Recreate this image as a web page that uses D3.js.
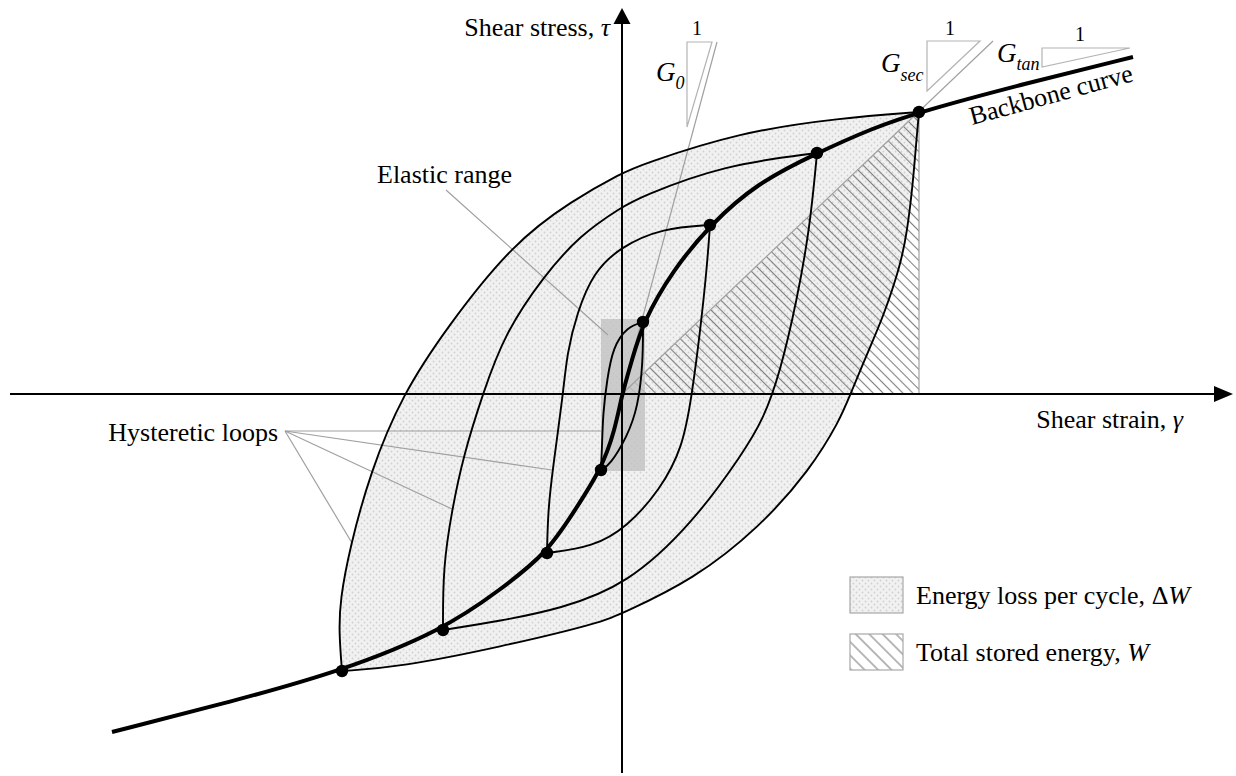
<!DOCTYPE html>
<html>
<head>
<meta charset="utf-8">
<script src="https://cdn.jsdelivr.net/npm/d3@7"></script>
<style>
  html, body { margin: 0; padding: 0; background: #fff; }
  svg { display: block; }
  text { font-family: "Liberation Serif", "Times New Roman", serif; fill: #000; }
</style>
</head>
<body>
<svg id="chart" width="1236" height="776"></svg>
<script>
// Backbone curve, [shear strain γ, shear stress τ] (arbitrary units)
const backbone = [
  [-5.10, -3.38], [-3.92, -3.08], [-2.80, -2.77], [-1.79, -2.36], [-1.22, -1.96],
  [-0.75, -1.59], [-0.49, -1.19], [-0.21, -0.76], [-0.07, -0.36], [0, 0],
  [0.10, 0.34], [0.21, 0.72], [0.51, 1.24], [0.88, 1.69], [1.35, 2.11],
  [1.95, 2.41], [2.51, 2.66], [2.97, 2.82], [4.05, 3.11], [5.11, 3.37]
];

// Reversal points of the four cycles (upper and lower)
const tipsUpper = [[0.21, 0.72], [0.88, 1.69], [1.95, 2.41], [2.97, 2.82]];
const tipsLower = [[-0.21, -0.76], [-0.75, -1.59], [-1.79, -2.36], [-2.80, -2.77]];

// Unloading branches (upper tip -> lower tip)
const loop1Down = [[0.21, 0.72], [0.05, 0.67], [-0.09, 0.47], [-0.15, 0.14], [-0.19, -0.19], [-0.20, -0.53], [-0.21, -0.76]];
const loop2Down = [[0.88, 1.69], [0.41, 1.66], [-0.02, 1.47], [-0.29, 1.21], [-0.45, 0.81], [-0.55, 0.41], [-0.59, -0.01], [-0.69, -0.73], [-0.74, -1.16], [-0.75, -1.59]];
const loop3Down = [[1.95, 2.41], [1.01, 2.29], [0.18, 1.97], [0, 1.87], [-0.42, 1.59], [-0.79, 1.17], [-1.17, 0.61], [-1.39, 0.01], [-1.59, -0.63], [-1.70, -1.16], [-1.79, -1.73], [-1.79, -2.36]];
const loop4Down = [[2.97, 2.82], [2.18, 2.76], [1.18, 2.62], [0.18, 2.29], [0, 2.21], [-0.49, 1.94], [-1.09, 1.51], [-1.75, 0.67], [-2.20, -0.01], [-2.52, -0.79], [-2.72, -1.53], [-2.82, -2.06], [-2.83, -2.39], [-2.80, -2.77]];

// Reloading branches (lower tip -> upper tip)
const loop1Up = [[-0.21, -0.76], [-0.12, -0.71], [0.05, -0.43], [0.16, -0.13], [0.21, 0.31], [0.21, 0.72]];
const loop2Up = [[-0.75, -1.59], [-0.29, -1.53], [0.05, -1.33], [0.38, -0.96], [0.61, -0.53], [0.70, 0], [0.78, 0.61], [0.85, 1.27], [0.88, 1.69]];
const loop3Up = [[-1.79, -2.36], [-1.22, -2.27], [-0.62, -2.15], [0.05, -1.91], [0.71, -1.29], [1.21, -0.59], [1.41, -0.26], [1.58, 0.21], [1.75, 0.94], [1.88, 1.67], [1.95, 2.41]];
const loop4Up = [[-2.80, -2.77], [-2.22, -2.73], [-1.22, -2.53], [-0.22, -2.29], [0.01, -2.19], [0.71, -1.86], [1.38, -1.33], [1.88, -0.76], [2.18, -0.26], [2.28, -0.01], [2.51, 0.54], [2.61, 0.77], [2.78, 1.27], [2.85, 1.61], [2.91, 2.11], [2.95, 2.61], [2.97, 2.82]];

// Elastic range box: [γmin, γmax], [τmin, τmax]
const elasticGamma = [-0.21, 0.23];
const elasticTau = [-0.77, 0.75];

// Moduli: initial tangent line end and secant line end
const g0LineEnd = [0.95, 3.52];
const secantEnd = [3.71, 3.53];

// Legend entries
const legendLabels = ["Energy loss per cycle, ", "Total stored energy, "];
const legendSymbols = ["ΔW", "W"];

const svg = d3.select("#chart");
const x = d3.scaleLinear().domain([-6.12, 6.14]).range([10, 1236]);
const y = d3.scaleLinear().domain([3.94, -3.82]).range([0, 776]);

const defs = svg.append("defs");

// dotted light-grey fill
const dots = defs.append("pattern").attr("id", "dots")
  .attr("patternUnits", "userSpaceOnUse").attr("width", 6).attr("height", 6);
dots.append("rect").attr("width", 6).attr("height", 6).attr("fill", "#f1f1f1");
dots.append("circle").attr("cx", 1.5).attr("cy", 1.5).attr("r", 0.9).attr("fill", "#d0d0d0");
dots.append("circle").attr("cx", 4.5).attr("cy", 4.5).attr("r", 0.9).attr("fill", "#d0d0d0");

// diagonal hatch
function hatch(id, gap) {
  const p = defs.append("pattern").attr("id", id)
    .attr("patternUnits", "userSpaceOnUse").attr("width", gap).attr("height", gap)
    .attr("patternTransform", "rotate(-45)");
  p.append("line").attr("x1", gap / 2).attr("y1", 0).attr("x2", gap / 2).attr("y2", gap)
    .attr("stroke", "#808080").attr("stroke-width", 1.1);
}
hatch("hatch", 7);
hatch("hatchLegend", 9.5);

const line = d3.line().x(d => x(d[0])).y(d => y(d[1])).curve(d3.curveBasis);
const straight = d3.line().x(d => x(d[0])).y(d => y(d[1]));

// energy dissipated in the largest cycle
svg.append("path")
  .attr("d", line(loop4Down) + line(loop4Up).replace(/^M/, "L") + "Z")
  .attr("fill", "url(#dots)").attr("stroke", "none");

// stored energy triangle under the secant
const tip = tipsUpper[3];
svg.append("path")
  .attr("d", straight([[0, 0], tip, [tip[0], 0]]) + "Z")
  .attr("fill", "url(#hatch)").attr("stroke", "none");

// elastic range
svg.append("rect")
  .attr("x", x(elasticGamma[0])).attr("y", y(elasticTau[1]))
  .attr("width", x(elasticGamma[1]) - x(elasticGamma[0]))
  .attr("height", y(elasticTau[0]) - y(elasticTau[1]))
  .attr("fill", "#c2c2c2").attr("opacity", 0.8);

// thin grey construction lines
const grey = svg.append("g").attr("fill", "none").attr("stroke", "#a0a0a0").attr("stroke-width", 1.2);
grey.append("path").attr("d", straight([[0, 0], secantEnd]));
grey.append("path").attr("d", straight([[tip[0], 0], tip]));
grey.append("path").attr("d", straight([[0, 0], g0LineEnd]));

// slope triangles
const triG0 = [[0.65, 3.52], [0.90, 3.52], [0.65, 2.67]];
const triSec = [[3.05, 3.53], [3.58, 3.53], [3.05, 3.03]];
const triTan = [[4.20, 3.46], [5.08, 3.46], [4.20, 3.27]];
[triG0, triSec, triTan].forEach(t => {
  grey.append("path").attr("d", straight(t) + "Z").attr("stroke", "#b4b4b4");
});

// leader lines
const leaderOrigin = [-3.37, -0.37];
const leaderTargets = [[-0.21, -0.37], [-0.70, -0.76], [-1.70, -1.15], [-2.70, -1.49]];
leaderTargets.forEach(t => grey.append("path").attr("d", straight([leaderOrigin, t])));
grey.append("path").attr("d", straight([[-1.76, 2.04], [-0.14, 0.59]]));

// axes with arrow heads
const axes = svg.append("g");
axes.append("line").attr("x1", x(-6.12)).attr("x2", x(6.0)).attr("y1", y(0)).attr("y2", y(0))
  .attr("stroke", "#000").attr("stroke-width", 2);
axes.append("line").attr("x1", x(0)).attr("x2", x(0)).attr("y1", y(-3.79)).attr("y2", y(3.75))
  .attr("stroke", "#000").attr("stroke-width", 2);
axes.append("path").attr("d", `M${x(6.11)},${y(0)} L${x(5.92)},${y(0) - 8} L${x(5.92)},${y(0) + 8} Z`).attr("fill", "#000");
axes.append("path").attr("d", `M${x(0)},${y(3.86)} L${x(0) - 8.5},${y(3.70)} L${x(0) + 8.5},${y(3.70)} Z`).attr("fill", "#000");

// hysteresis loop branches
const branches = [loop1Down, loop1Up, loop2Down, loop2Up, loop3Down, loop3Up, loop4Down, loop4Up];
svg.append("g").selectAll("path").data(branches).join("path")
  .attr("d", line).attr("fill", "none").attr("stroke", "#000").attr("stroke-width", 1.9);

// backbone
svg.append("path").attr("d", line(backbone)).attr("fill", "none")
  .attr("stroke", "#000").attr("stroke-width", 4).attr("stroke-linecap", "butt");

// reversal points
svg.append("g").selectAll("circle").data(tipsUpper.concat(tipsLower)).join("circle")
  .attr("cx", d => x(d[0])).attr("cy", d => y(d[1])).attr("r", 6.2).attr("fill", "#000");

// labels
const fs = 26;
const t1 = svg.append("text").attr("x", 610).attr("y", 36).attr("text-anchor", "end").attr("font-size", fs);
t1.append("tspan").text("Shear stress, ");
t1.append("tspan").attr("font-style", "italic").text("τ");

const t2 = svg.append("text").attr("x", 1183).attr("y", 428).attr("text-anchor", "end").attr("font-size", fs);
t2.append("tspan").text("Shear strain, ");
t2.append("tspan").attr("font-style", "italic").text("γ");

svg.append("text").attr("x", 377).attr("y", 183).attr("font-size", fs).text("Elastic range");
svg.append("text").attr("x", 278).attr("y", 441).attr("text-anchor", "end").attr("font-size", fs).text("Hysteretic loops");

svg.append("text").attr("transform", "translate(972,125) rotate(-15.2)").attr("font-size", fs).text("Backbone curve");

// modulus labels
function modLabel(gx, gy, sub, subDy, subSize) {
  const t = svg.append("text").attr("x", gx).attr("y", gy).attr("font-size", 27).attr("font-style", "italic");
  t.append("tspan").text("G");
  t.append("tspan").attr("dy", subDy).attr("font-size", subSize).text(sub);
}
modLabel(656, 81, "0", 8, 18);
modLabel(881, 72, "sec", 9, 18);
modLabel(997, 62, "tan", 8, 18);

[[697, 35], [950, 35], [1080, 41]].forEach(p => {
  svg.append("text").attr("x", p[0]).attr("y", p[1]).attr("text-anchor", "middle").attr("font-size", 20).text("1");
});

// legend
const legend = svg.append("g");
const fills = ["url(#dots)", "url(#hatchLegend)"];
legendLabels.forEach((lab, i) => {
  const top = 577 + i * 57;
  if (i === 1) legend.append("rect").attr("x", 850).attr("y", top).attr("width", 53).attr("height", 36).attr("fill", "#fff");
  legend.append("rect").attr("x", 850).attr("y", top).attr("width", 53).attr("height", 36)
    .attr("fill", fills[i]).attr("stroke", "#a8a8a8").attr("stroke-width", 1.2);
  const t = legend.append("text").attr("x", 916).attr("y", top + 27).attr("font-size", fs);
  t.append("tspan").text(lab);
  if (i === 0) {
    t.append("tspan").text("Δ");
    t.append("tspan").attr("font-style", "italic").text("W");
  } else {
    t.append("tspan").attr("font-style", "italic").text(legendSymbols[i]);
  }
});
</script>
</body>
</html>
